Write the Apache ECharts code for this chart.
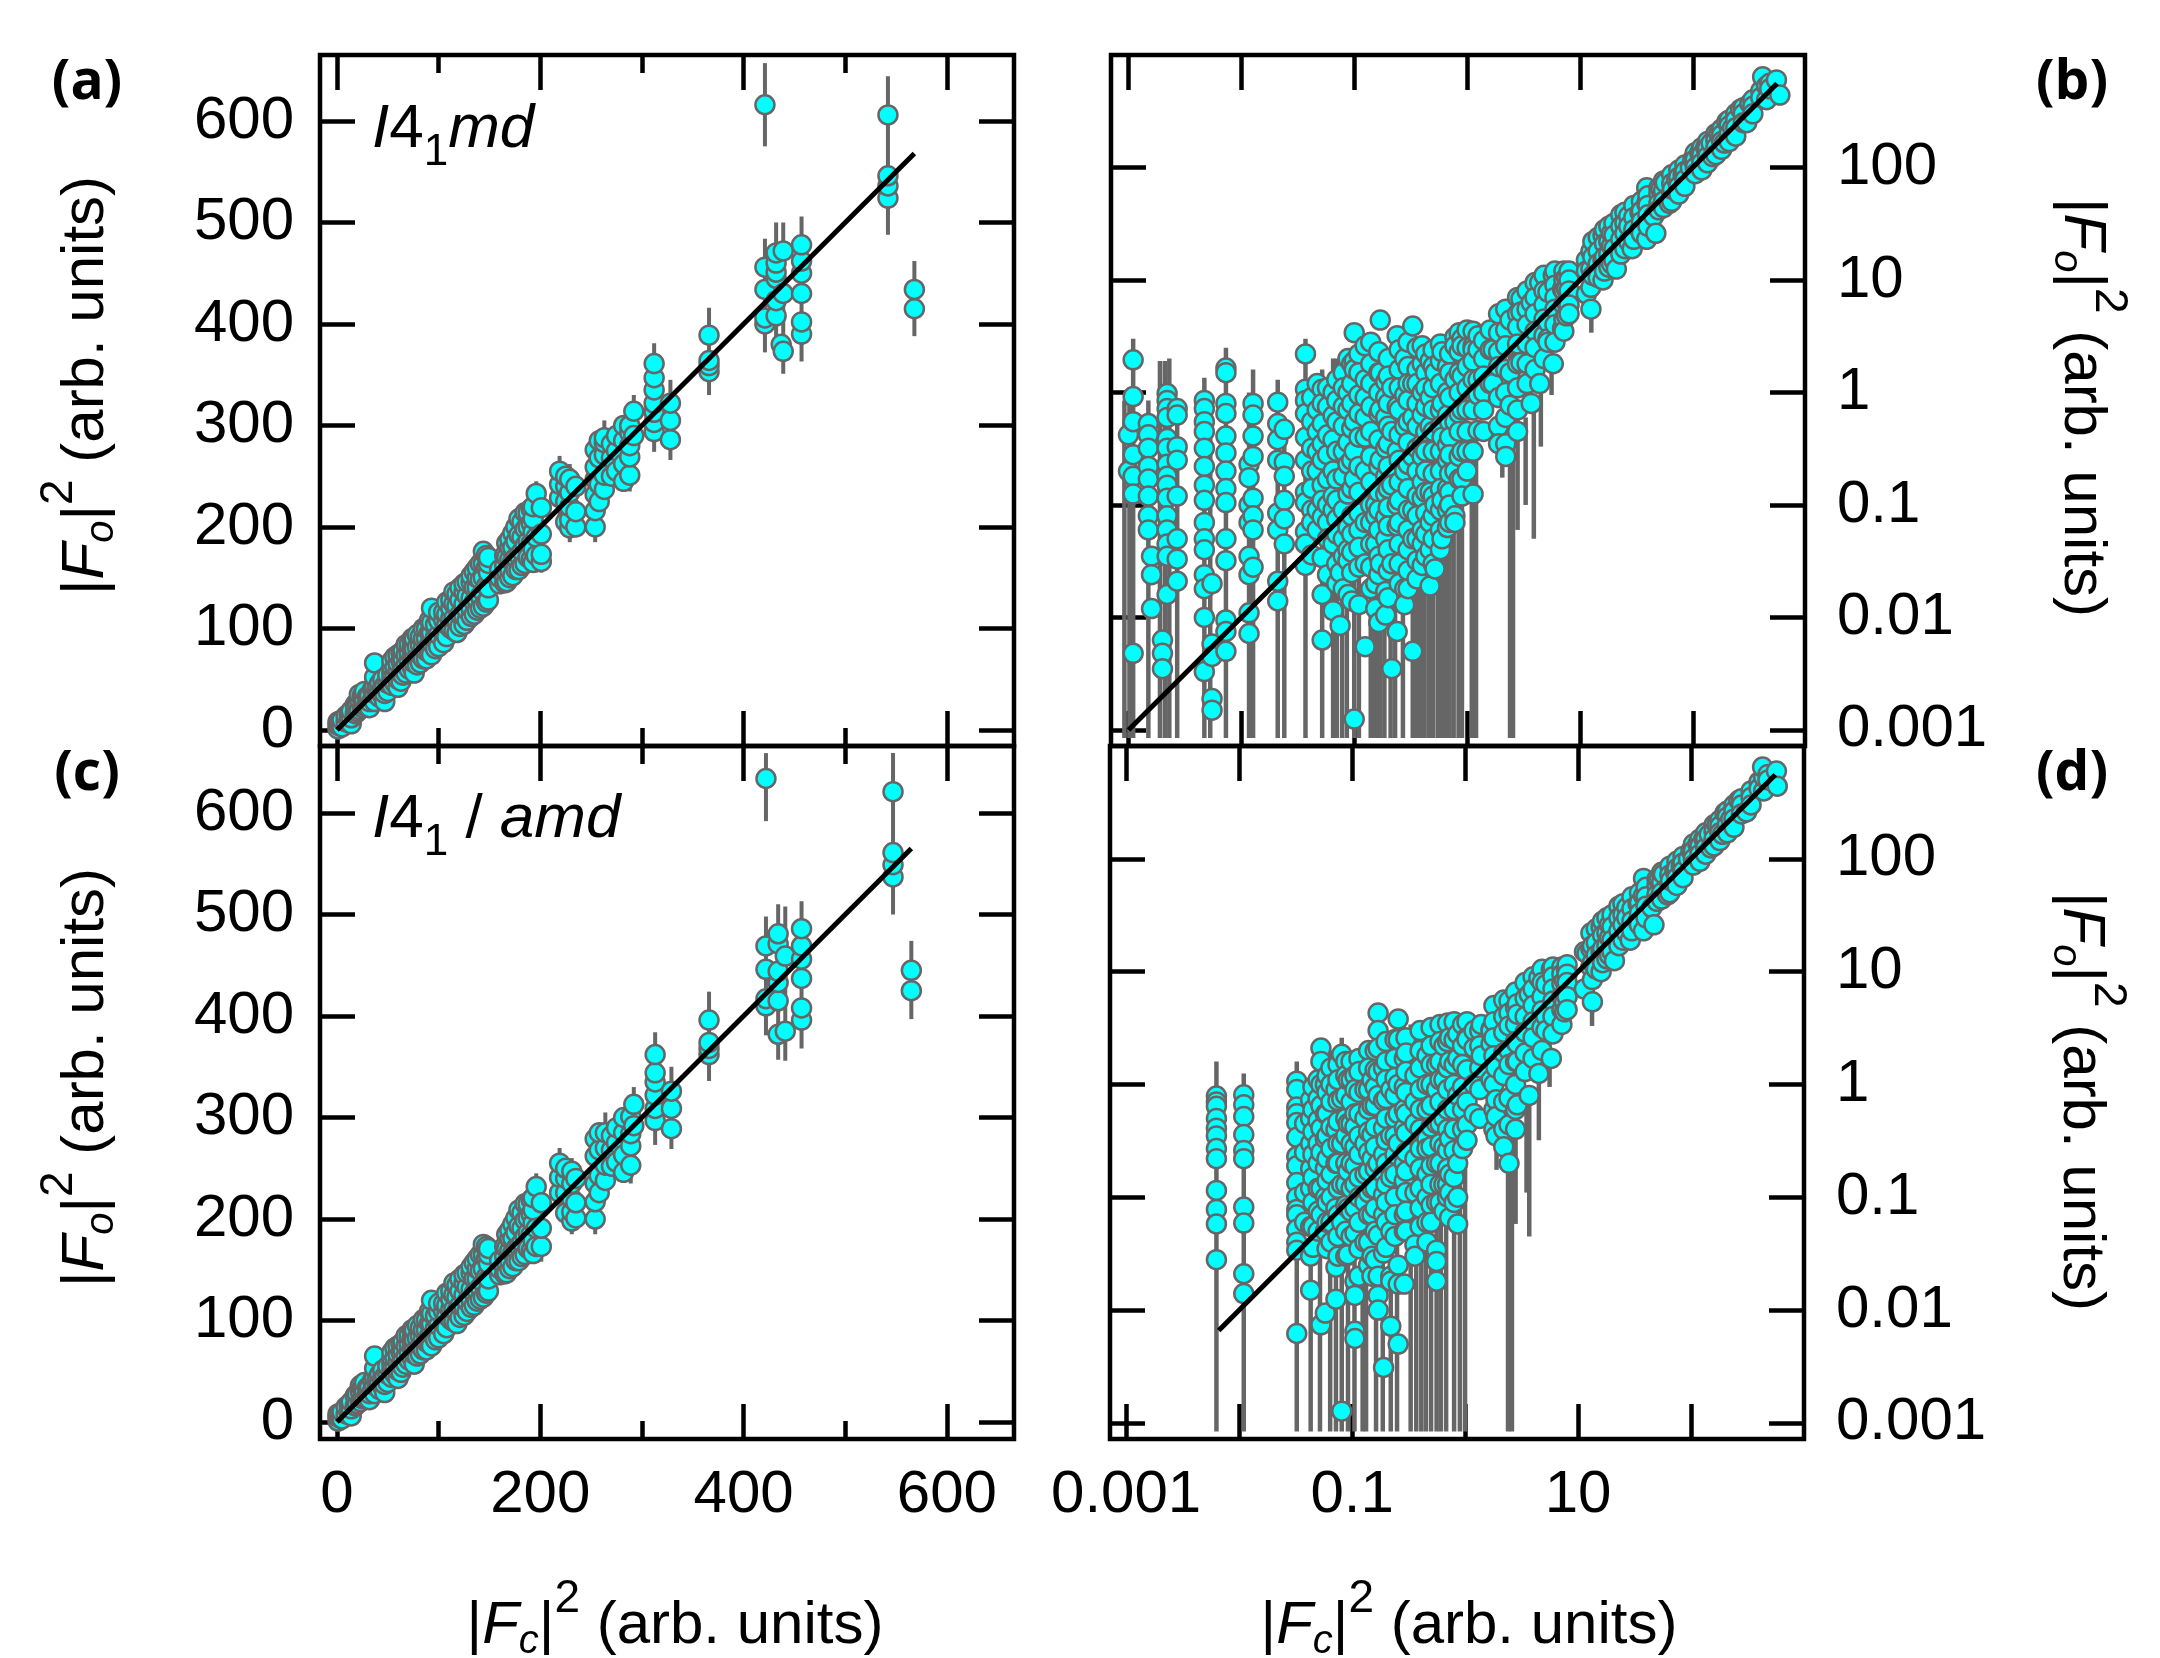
<!DOCTYPE html>
<html>
<head>
<meta charset="utf-8">
<title>Fo vs Fc</title>
<style>html,body{margin:0;padding:0;background:#fff}#main{width:2160px;height:1658px}</style>
</head>
<body>
<div id="main"></div>
<script src="https://cdn.jsdelivr.net/npm/echarts@6/dist/echarts.min.js"></script>
<script>
// linear panels: ticks
var linTicksMajor = [0, 200, 400, 600];
var linTicksMinor = [100, 300, 500];
var linTicksY = [0, 100, 200, 300, 400, 500, 600];
// log panels: ticks
var logTicks = [0.001, 0.01, 0.1, 1, 10, 100];
var logLabelsX = [0.001, 0.1, 10];

// panel a: points per column (x, list of y), error bars (x, high, low), fit line
var aColX = [1,3,5,9,12,14,18,20,22,25,27,30,32,35,37,40,42,45,47,50,54,57,60,63,65,68,71,74,76,79,82,85,88,91,93,97,100,105,108,112,115,118,121,125,128,132,135,138,141,144,147,149,160,165,167,170,173,176,179,182,185,188,191,193,196,201,219,225,229,235,254,258,263,270,275,282,288,292,312,328,366,421,432,437,439,457,542,568];
var aColY = [[1,5,8],[4,7],[3,10],[8,14],[10,16],[6,12,19],[16,25],[18,27],[20,30,35],[22,34],[24,30,38],[26,33],[22,28,34],[30,40],[28,36,43,52,66],[36,42],[32,38,46],[34,42,50],[28,36,44],[38,46,54],[44,50,56,62,68],[46,54,62,72],[42,50,58,66,74],[48,56,68,76],[54,60,70,78],[56,64,74,84],[60,68,76,84],[62,72,82,90],[56,66,72,80,90],[64,72,82,94],[66,74,84,92],[70,80,90,100],[70,78,90,100],[76,84,96,108],[74,86,96,106,120],[80,92,104],[82,94,108,116],[86,96,108,116],[92,104,114,126],[100,110,120,128],[98,110,124,136],[96,108,122,134],[102,114,128,140],[104,112,124,136,144],[108,118,132,146],[112,120,130,146,152],[114,126,140,156],[118,128,140,150,160],[120,132,148,164],[122,136,150,164,176],[126,142,160,172],[128,140,155,164,170],[144,150,158],[145,152,162,172],[146,156,170,184],[150,158,168,180,188],[152,166,180,194],[158,170,186,200],[158,172,192,208],[162,176,190,205],[164,182,198,214],[170,186,200,214],[168,184,204,218],[165,178,195,208,220],[172,190,233],[166,173,193,219],[229,242,255],[205,225,240,250],[199,207,220,234,247],[200,215,240],[200,216,232,247,259,276],[225,242,268,285],[237,251,271,283,288],[250,268,282],[255,275,290],[245,262,285,300],[251,269,280,293,300],[290,314],[294,303,313,322,335,347,361],[286,305,322],[353,359,364,389],[400,406,434,456,616],[408,423,445,451,460,470],[380],[373,430,472],[390,402,430,450,462,478],[524,536,546,606],[415,434]];
var aBarX = [140,168,196,201,219,229,254,263,288,292,312,328,366,421,421,432,439,457,542,568];
var aBarHigh = [170,185,245,232,270,262,290,305,315,330,381,345,416,657,484,500,500,506,644,462];
var aBarLow = [110,140,155,155,208,185,185,228,235,245,274,266,330,575,372,380,351,363,488,388];
var aLineX = [0, 568];
var aLineY = [0, 568];

// panel c
var cColX = [1,3,5,9,12,14,18,20,23,25,27,30,32,35,37,40,42,45,47,50,54,57,60,63,65,68,71,74,76,79,82,85,88,91,93,97,100,105,108,112,115,118,121,125,128,132,135,138,141,144,147,149,160,165,167,170,173,176,179,182,185,188,191,193,196,201,219,225,231,235,254,258,264,270,275,282,289,292,313,329,366,422,434,441,457,547,565];
var cColY = [[1,5,8],[4,8],[3,10],[8,15],[10,17],[6,13,20],[16,26],[18,28],[20,30,36],[23,34],[24,31,39],[27,34],[22,28,35],[31,41],[28,36,44,53,65],[36,43],[32,39,47],[35,43,51],[29,37,45],[39,47,55],[44,51,57,63,69],[47,55,63,73],[43,51,59,67,75],[49,57,69,77],[54,61,71,79],[57,65,75,85],[61,69,77,85],[63,73,83,91],[57,67,73,81,91],[65,73,83,95],[67,75,85,93],[71,81,91,101],[71,79,91,101],[77,85,97,109],[75,87,97,107,120],[81,93,105],[83,95,109,117],[87,97,109,117],[93,105,115,127],[101,111,121,129],[99,111,125,137],[97,109,123,135],[103,115,129,141],[105,113,125,137,145],[109,119,133,147],[113,121,131,147,153],[115,127,141,157],[119,129,141,151,161],[121,133,149,165],[123,137,151,165,175],[127,143,161,173],[129,141,156,165,171],[145,151,159],[146,153,163,173],[147,157,171,185],[151,159,169,181,189],[153,167,181,195],[159,171,187,201],[159,173,193,209],[163,177,191,206],[165,183,199,215],[171,187,201,215],[169,185,205,219],[166,179,196,209,221],[173,191,232],[173,191,216],[226,241,255],[206,226,240,250],[198,207,220,235,247],[201,216,240],[200,217,235,262,279],[226,243,268,285],[238,253,270,285],[252,268,282],[256,275,290],[246,263,285,300],[253,272,284,301],[292,313],[297,309,322,335,344,362],[289,309,326],[362,368,374,396],[410,417,446,469,634],[382,415,433,444,471,481],[385,459],[396,408,437,456,469,486],[537,549,561,621],[425,445]];
var cBarX = [140,168,196,201,219,231,254,264,289,292,313,329,366,422,422,434,441,457,547,565];
var cBarHigh = [170,185,245,232,270,260,292,305,315,330,384,350,424,659,498,510,508,513,659,474];
var cBarLow = [110,140,158,158,208,185,185,228,235,245,273,269,336,592,381,357,356,368,500,397];
var cLineX = [0, 565];
var cLineY = [0, 565];

// panel b
var bColX = [0.001,0.0011,0.0015,0.0016,0.002,0.0022,0.0027,0.0047,0.0055,0.0073,0.0117,0.0127,0.021,0.024,0.037,0.042,0.047,0.052,0.058,0.065,0.07,0.075,0.08,0.088,0.095,0.1,0.11,0.125,0.14,0.155,0.165,0.17,0.19,0.2,0.215,0.24,0.25,0.28,0.3,0.33,0.36,0.4,0.43,0.47,0.5,0.52,0.58,0.6,0.67,0.7,0.78,0.85,0.9,1,1.13,1.25,1.4,1.6,1.7,1.9,2.2,2.4,2.8,3,3.4,3.7,4,4.4,4.8,5.2,5.8,6,7,7.2,7.6,8,11.4,12.5,13,14.5,16,16.5,18,19,20,21,23,25,27,29,30,34,35,39,40,45,47,50,52,55,57,62,65,66,72,75,82,85,95,100,105,115,120,130,135,145,150,160,170,180,190,200,210,225,240,265,280,300,320,340,400,415,450,480,550,590];
var bColY = [[0.42,0.2],[1.95,0.92,0.55,0.28,0.18,0.125,0.0048],[0.53,0.42,0.32,0.22,0.17,0.12,0.08,0.06],[0.035,0.024,0.012],[0.0063,0.0048,0.0035],[0.98,0.85,0.72,0.6,0.39,0.32,0.23,0.18,0.15,0.115,0.08,0.06,0.045,0.035,0.016],[0.72,0.63,0.33,0.25,0.12,0.05,0.033,0.021],[0.85,0.72,0.55,0.45,0.32,0.22,0.15,0.11,0.07,0.05,0.04,0.024,0.018,0.01,0.0033],[0.02,0.0058,0.0045,0.0019,0.0015],[1.65,1.5,0.8,0.65,0.41,0.29,0.2,0.14,0.105,0.05,0.032,0.0095,0.0075,0.005],[0.23,0.175,0.1,0.07,0.035,0.024,0.011,0.0072],[0.8,0.63,0.41,0.27,0.115,0.08,0.06,0.028],[0.82,0.53,0.38,0.25,0.085,0.06,0.021,0.014],[0.47,0.24,0.18,0.11,0.075,0.045],[2.2,1.07,0.85,0.65,0.4,0.25,0.13,0.105,0.058,0.045,0.029],[0.9,0.55,0.32,0.2,0.14,0.09,0.07,0.036],[1.2,0.7,0.45,0.3,0.2,0.09,0.06],[1.07,0.8,0.53,0.35,0.25,0.15,0.11,0.078,0.034,0.016,0.0063],[1.1,0.75,0.42,0.28,0.17,0.1,0.07,0.05,0.024],[1,0.62,0.38,0.2,0.12,0.09,0.045,0.0115],[1.3,0.85,0.55,0.3,0.17,0.11,0.075,0.055,0.03,0.02],[0.025,0.0085],[1.5,1.1,0.75,0.5,0.3,0.18,0.09,0.05,0.035,0.018],[2,1,0.7,0.36,0.23,0.125,0.063,0.04,0.032,0.016],[1.8,1.2,0.8,0.48,0.25,0.14,0.08,0.055,0.038,0.025,0.014],[3.4,1.9,1.6,0.55,0.3,0.17,0.00125],[2.2,1.5,0.95,0.65,0.4,0.22,0.13,0.085,0.06,0.042,0.028,0.013],[2.6,1.3,0.9,0.6,0.4,0.2,0.07,0.03,0.0055],[2.8,1.8,1.2,0.75,0.45,0.27,0.16,0.1,0.07,0.045,0.028,0.018],[0.1,0.08,0.045,0.02,0.012],[2.3,1.5,1,0.65,0.38,0.22,0.13,0.09,0.06,0.035,0.024,0.009],[4.4,1.5,0.7,0.25,0.03],[1.25,0.9,0.6,0.32,0.18,0.125,0.078,0.05,0.017,0.0105],[2,1.4,0.8,0.5,0.35,0.22,0.14,0.095,0.065,0.04,0.026,0.015],[1.1,0.45,0.15,0.03,0.0035],[3.2,0.75,0.3,0.1,0.065,0.0075],[2.4,1.6,1.1,0.7,0.42,0.25,0.16,0.11,0.07,0.045,0.03,0.02],[2,0.95,0.5,0.2,0.018,0.013],[2.8,1.7,1.2,0.85,0.55,0.36,0.23,0.14,0.09,0.06,0.04,0.026,0.018],[3.9,1.2,0.6,0.27,0.09,0.05,0.005],[2.5,1.6,1.2,0.8,0.5,0.32,0.2,0.12,0.08,0.05,0.032,0.022],[2.6,1.8,1,0.63,0.35,0.27,0.16,0.115,0.06,0.045,0.029],[2.2,1.5,1.1,0.75,0.45,0.3,0.2,0.13,0.085,0.055,0.035],[1.9,0.9,0.5,0.13,0.07,0.04,0.019],[2.4,1.7,1.1,0.7,0.45,0.3,0.19,0.12,0.08,0.05,0.03],[1.5,0.1,0.027],[2.7,1.9,1.2,0.7,0.5,0.3,0.2,0.14,0.09,0.06,0.04],[2.3,0.8,0.4,0.11,0.05],[1.7,1,0.63,0.34,0.25,0.14,0.09,0.063],[2.2,1.5,0.9,0.55,0.4,0.28,0.19,0.13,0.1,0.07],[3.1,2.6,1.3,0.55,0.2,0.08,0.07],[3.4,2.3,1.5,1,0.65,0.45,0.27,0.17],[3,2.6,1.4,0.7,0.3,0.17,0.12],[3.6,2.5,1.7,1.1,0.7,0.45,0.3,0.2],[3.5,2.6,2.4,1.9,1.3,0.7,0.3,0.125],[3.2,2.4,1.3,0.95,0.46],[2.9,2,1.4,1,0.7,0.45],[3.6,2.4,1.2],[2.4,1.2],[5,3.4,2.3,1.7,0.9,0.5,0.35],[5.5,3.6,2.6,1.6,1,0.6,0.35,0.27],[4.4,1.5,0.77],[7,5,3.8,2.7,1.8,1.1,0.7,0.45],[6.8,5.2,1.85],[8,5.5,4,2.7,1.8,1.2],[6.3,0.8],[9.5,7,5,3.5,2.5,1.6],[9.5,1.2],[11,8,6,4.5,3.2,2],[7.8,4.2,3,2.8],[11,1.8],[12,9,7,5.5,4,2.8],[8.3,3.7],[12,10,8,6,4.5,3.5],[10.5,8.3,6.3,4.8],[12,10,8,6,5],[15,12,7.5],[18,12.5,8.6,5.5],[22,16,11],[24,18,14,10.5],[25,15,10],[28,21,16,12],[30,22,17,13],[26,20,14],[32,25,19,15],[12.5],[38,30,23,17],[40,32,26,19],[37,30,22],[19],[46,36,28,23],[40,28],[50,41,33,26],[66,48,23],[56,46,38,30],[37],[26],[66,58,48,42],[64],[76,62,50,44],[73],[48],[86,72,60,50],[64],[78],[95,82,68,58],[86],[105,92,78,68],[100],[118],[135,118,100,88],[135],[150,130,110,95],[150],[170,150,125,110],[165],[125],[200,175,150,130],[200],[220,195,170,145],[165],[255],[265,235,200,170],[225],[300,265,225,190],[330],[340,300,250],[250],[370],[400,350,300],[480,420],[640],[530,400],[560,500],[600],[440]];
var bBarX = [0.00092,0.00102,0.0011,0.0015,0.0019,0.0021,0.0023,0.0027,0.0047,0.0053,0.0073,0.0117,0.0127,0.021,0.024,0.037,0.052,0.065,0.07,0.078,0.086,0.1,0.11,0.14,0.15,0.16,0.17,0.185,0.21,0.23,0.27,0.33,0.36,0.39,0.42,0.46,0.5,0.55,0.6,0.65,0.7,0.76,0.84,0.9,1.1,1.2,2.05,2.4,2.55,2.8,3.3,3.9,4.5,5.6,12.6];
var bBarHigh = [0.85,0.9,3,0.85,1.9,1.9,2,0.6,1.35,0.95,2.5,1,1.6,1.3,0.5,3,1.6,2,2,2,2,1.9,1.9,1.5,1.5,1.5,1.5,1.5,1.5,1.5,1.5,2,2,2,2,2,2,2,2,2,2,2,2,2,0.5,0.5,0.35,3,3,0.6,0.6,0.8,1.2,2.5,15];
var bBarLow = [0.00085,0.00085,0.00085,0.00085,0.00085,0.00085,0.00085,0.00085,0.00085,0.00085,0.00085,0.00085,0.00085,0.00085,0.00085,0.00085,0.00085,0.00085,0.00085,0.00085,0.00085,0.00085,0.00085,0.00085,0.00085,0.00085,0.00085,0.00085,0.00085,0.00085,0.00085,0.00085,0.00085,0.00085,0.00085,0.00085,0.00085,0.00085,0.00085,0.00085,0.00085,0.00085,0.00085,0.00085,0.00085,0.00085,0.175,0.00085,0.00085,0.06,0.1,0.05,0.33,0.95,3.4];
var bLineX = [0.001, 557];
var bLineY = [0.001, 557];

// panel d
var dColX = [0.0063,0.011,0.0324,0.038,0.043,0.045,0.05,0.053,0.058,0.06,0.065,0.072,0.075,0.081,0.088,0.092,0.098,0.106,0.115,0.13,0.14,0.15,0.16,0.17,0.19,0.2,0.22,0.24,0.256,0.29,0.3,0.36,0.4,0.46,0.5,0.56,0.6,0.65,0.7,0.73,0.8,0.86,0.95,1.04,1.2,1.35,1.39,1.7,1.8,1.88,2.2,2.45,2.8,2.9,3.4,3.7,4,4.5,4.8,5.2,5.8,6,7.2,7.6,7.9,8,11.4,12,13,13.4,14.5,16,16.5,18,19,20,21,23,25,27,29,30,34,35,38,40,45,47,50,52,55,57,62,65,66,72,75,82,85,95,100,105,115,120,130,135,145,150,160,170,180,190,200,210,225,240,265,280,310,340,400,440,430,480,570,580];
var dColY = [[0.79,0.7,0.64,0.5,0.41,0.35,0.27,0.22,0.115,0.078,0.058,0.028],[0.81,0.66,0.52,0.36,0.26,0.22,0.082,0.059,0.021,0.014],[1.07,0.9,0.63,0.55,0.46,0.34,0.23,0.19,0.135,0.1,0.078,0.07,0.052,0.04,0.034,0.0062],[0.45,0.25,0.11,0.06],[0.73,0.5,0.3,0.18,0.12,0.055,0.03,0.015],[0.95,0.6,0.38,0.24,0.15,0.09,0.055,0.036],[1.1,0.75,0.48,0.3,0.2,0.12,0.075,0.05],[2.1,1.6,1,0.65,0.41,0.25,0.12,0.07,0.0074],[1,0.55,0.33,0.18,0.1,0.05,0.0094],[1.2,0.85,0.55,0.35,0.22,0.14,0.09,0.06,0.035],[1.4,1,0.7,0.42,0.27,0.16,0.1,0.06,0.04],[0.9,0.4,0.2,0.08,0.024,0.0125],[1.5,1.1,0.72,0.47,0.3,0.2,0.12,0.07,0.045,0.03],[1.85,0.75,0.3,0.13,0.06,0.00127],[1.6,1.2,0.8,0.5,0.35,0.2,0.13,0.085,0.05,0.03],[1.1,0.45,0.17,0.08,0.031],[1.6,1.1,0.7,0.45,0.3,0.2,0.12,0.075,0.045],[1.2,0.9,0.55,0.42,0.28,0.19,0.13,0.08,0.048,0.018,0.0135,0.0065,0.0056],[1.7,1.3,0.85,0.55,0.35,0.24,0.15,0.1,0.06,0.035,0.02],[0.9,0.5,0.3,0.16,0.09,0.04],[2,1.4,0.9,0.6,0.38,0.25,0.17,0.11,0.07,0.04,0.025],[1.1,0.65,0.36,0.22,0.12,0.07,0.03,0.02],[2,1.35,0.95,0.65,0.42,0.28,0.18,0.12,0.08,0.05,0.028],[4.3,3,2.1,1.3,0.8,0.2,0.046,0.02,0.0135,0.01],[1.4,0.72,0.41,0.24,0.16,0.105,0.07,0.032,0.0031],[2.4,1.6,1.1,0.75,0.5,0.32,0.2,0.13,0.09,0.06,0.036],[0.9,0.35,0.15,0.05,0.02,0.018,0.0072],[2.5,1.7,1.15,0.8,0.5,0.35,0.24,0.16,0.1,0.07,0.045],[3.8,2.5,1,0.55,0.3,0.025,0.017,0.005],[1.7,0.95,0.6,0.41,0.2,0.14,0.07,0.05,0.017],[2.6,1.9,1.3,0.85,0.55,0.37,0.25,0.17,0.11,0.075,0.05],[1.2,0.7,0.45,0.22,0.11,0.038,0.03],[3,2,1.4,0.9,0.6,0.4,0.27,0.18,0.12,0.08,0.055],[1.8,1,0.6,0.33,0.27,0.16,0.1,0.06,0.04],[3.2,2.2,1.5,1,0.65,0.42,0.28,0.19,0.13,0.085,0.06],[1.5,0.9,0.45,0.2,0.09,0.034,0.027,0.018],[3.4,2.4,1.6,1.1,0.7,0.45,0.3,0.2,0.13,0.09],[2.2,1.1,0.5,0.28,0.13,0.075],[3.5,2.4,1.4,0.9,0.6,0.4,0.26,0.18,0.13,0.1],[2.6,1.6,0.33,0.16,0.11,0.066],[3.6,2.5,1.5,1,0.6,0.4,0.26,0.15,0.09],[2.8,1.7,0.8,0.2,0.1,0.058],[3.4,2.2,1.5,0.95,0.6,0.4,0.27],[3.6,2.6,2.5,1.35,0.7,0.44,0.32],[3,2.1,1,0.55],[3,2.2,1.4,0.9,0.5],[3.4,1.8],[3.1,3,2.3,1.1],[5,3.6,2.6,1.8,1,0.6,0.4],[1.4,0.73,0.52,0.35],[5.6,4,2.9,1.9,1.2,0.7,0.4,0.28],[5.5,4.3,3.3,2,1.5,0.76,0.44,0.2],[6.6,4.8,3.4,2.4,1.6,1,0.6,0.4],[5.2,4.2,2.3,1.6,0.66],[8,5.8,4,2.9,1.9,1.3],[6.3,0.8],[9,7,5,3.6,2.6,1.7],[8.8,1.25],[10.5,8,6,4.5,3.2,2],[7.7,4,3],[10.5,1.7],[11,9,7,5.5,4,2.8],[11,9.5,7.8,6,4.6,3.4],[8.3,5.3,4.4],[10.5],[11.5,9.5,8,6,4.6],[15,7],[14.5],[22,16,11],[17,12,8.5,5.4],[24,18,14,10.5],[25,15,10],[28,21,16,12],[30,22,17,13],[26,20,14],[32,25,19,15],[12.5],[38,30,23,17],[40,32,26,19],[37,30,22],[19],[46,36,28,23],[40,28],[50,41,33,26],[67,47,23],[56,46,38,30],[37],[26],[66,58,48,42],[64],[76,62,50,44],[73],[48],[86,72,60,50],[64],[78],[95,82,68,58],[86],[105,92,78,68],[100],[118],[135,118,100,88],[135],[150,130,110,95],[150],[170,150,125,110],[165],[125],[200,175,150,130],[200],[220,195,170,145],[165],[255],[265,235,200,170],[225],[300,265,225,190],[330],[340,300,250],[260],[400,350,300],[480,420],[400,530],[650],[560,500],[600],[440]];
var dBarX = [0.0063,0.011,0.0324,0.043,0.052,0.064,0.072,0.081,0.092,0.105,0.124,0.133,0.163,0.187,0.22,0.25,0.33,0.37,0.41,0.45,0.5,0.56,0.61,0.68,0.8,0.9,1,1.9,2.4,2.6,2.8,3.5,3.7,4.5,5.6,13.3];
var dBarHigh = [1.6,1.25,1.6,1,1.5,2,2,2.6,2,2,2,2,2,2,2,2,3.4,3.4,3.4,3.6,3,3,3,3,3,3,3,0.35,3,3,0.6,0.6,0.8,1.2,2.5,15];
var dBarLow = [0.00084,0.00084,0.00084,0.00084,0.00084,0.00084,0.00084,0.00084,0.00084,0.00084,0.00084,0.00084,0.00084,0.00084,0.00084,0.00084,0.00084,0.00084,0.00084,0.00084,0.00084,0.00084,0.00084,0.00084,0.00084,0.00084,0.00084,0.175,0.00084,0.00084,0.058,0.11,0.045,0.32,0.95,3.3];
var dLineX = [0.0066, 557];
var dLineY = [0.0066, 557];

var FONT = 'Liberation Sans';
var GREY = '#666666';
var titleRich = {
    t: { fontFamily: FONT, fontSize: 60, color: '#000', lineHeight: 100, verticalAlign: 'middle' },
    i: { fontFamily: FONT, fontSize: 60, fontStyle: 'italic', color: '#000', lineHeight: 100, verticalAlign: 'middle' },
    s: { fontFamily: FONT, fontSize: 40, fontStyle: 'italic', color: '#000', lineHeight: 66, verticalAlign: 'bottom', padding: [0, 0, 14, 0] },
    u: { fontFamily: FONT, fontSize: 46, color: '#000', lineHeight: 66, verticalAlign: 'top' }
};
var foTitle = '{t||}{i|F}{s|o}{t||}{u|2}{t| (arb. units)}';
var fcTitle = '{t||}{i|F}{s|c}{t||}{u|2}{t| (arb. units)}';

function pairs(colX, colY) {
    var out = [];
    colX.forEach(function (x, i) {
        colY[i].forEach(function (y) { out.push([x, y]); });
    });
    return out;
}
function zip3(a, b, c) {
    return a.map(function (v, i) { return [v, b[i], c[i]]; });
}
function zip2(a, b) {
    return a.map(function (v, i) { return [v, b[i]]; });
}
function logFmt(v) { return String(+(+v).toPrecision(3)); }

var grids = [], xAxes = [], yAxes = [], series = [];

function tickAxis(list, pos, gi, ext, type, ticks, len, extra) {
    var ax = {
        type: type, gridIndex: gi, position: pos, min: ext[0], max: ext[1],
        splitLine: { show: false }, minorTick: { show: false }, minorSplitLine: { show: false },
        axisLine: { show: false, onZero: false },
        axisLabel: { show: false },
        axisTick: { show: true, inside: true, length: len, customValues: ticks, lineStyle: { color: '#000', width: 4.5 } }
    };
    if (type === 'log') ax.logBase = 10;
    if (extra) {
        for (var k in extra) ax[k] = extra[k];
    }
    list.push(ax);
    return list.length - 1;
}

function labelStyle(values, fmt) {
    return { show: true, inside: false, margin: 26, customValues: values, formatter: fmt, fontFamily: FONT, fontSize: 60, color: '#000', showMinLabel: true, showMaxLabel: true };
}

function panel(p) {
    var gi = grids.length;
    grids.push({ show: true, left: p.box[0], top: p.box[1], width: p.box[2], height: p.box[3], outerBoundsMode: 'none', containLabel: false, borderColor: '#000', borderWidth: 4.5, backgroundColor: 'transparent' });
    var isLog = p.type === 'log';
    var xt = isLog ? logTicks : linTicksMajor;
    var yt = isLog ? logTicks : linTicksY;
    var fmt = isLog ? logFmt : function (v) { return String(v); };

    var xExtra = {};
    if (p.xLabels) {
        xExtra.axisLabel = labelStyle(p.xLabels, fmt);
        xExtra.name = fcTitle;
        xExtra.nameLocation = 'middle';
        xExtra.nameGap = p.xNameGap;
        xExtra.nameMoveOverlap = false;
        xExtra.nameTextStyle = { rich: titleRich, padding: p.xNamePad };
    }
    var xi = tickAxis(xAxes, 'bottom', gi, p.xExt, p.type, xt, 35, xExtra);
    tickAxis(xAxes, 'top', gi, p.xExt, p.type, xt, 35);
    if (!isLog) {
        tickAxis(xAxes, 'bottom', gi, p.xExt, p.type, linTicksMinor, 18);
        tickAxis(xAxes, 'top', gi, p.xExt, p.type, linTicksMinor, 18);
    }
    var yExtra = {
        axisLabel: labelStyle(yt, fmt),
        name: foTitle, nameLocation: 'middle', nameGap: p.yNameGap, nameRotate: p.yRight ? -90 : 90,
        nameMoveOverlap: false,
        nameTextStyle: { rich: titleRich, padding: p.yNamePad }
    };
    yExtra.axisLabel.padding = [10, 0, 0, 0];
    if (p.yRight) {
        yExtra.axisLabel.align = 'left';
        yExtra.axisLabel.margin = 32;
    }
    var yi = tickAxis(yAxes, p.yRight ? 'right' : 'left', gi, p.yExt, p.type, yt, 35, yExtra);
    tickAxis(yAxes, p.yRight ? 'left' : 'right', gi, p.yExt, p.type, yt, 35);

    series.push({
        type: 'custom', xAxisIndex: xi, yAxisIndex: yi, z: 2, silent: true, clip: true,
        data: zip3(p.barX, p.barHigh, p.barLow),
        encode: { x: 0, y: [1, 2] },
        renderItem: function (params, api) {
            var a = api.coord([api.value(0), api.value(1)]);
            var b = api.coord([api.value(0), api.value(2)]);
            return {
                type: 'line',
                shape: { x1: a[0], y1: a[1], x2: b[0], y2: b[1] },
                style: { stroke: GREY, lineWidth: p.barWidth, fill: null }
            };
        }
    });
    series.push({
        type: 'scatter', xAxisIndex: xi, yAxisIndex: yi, z: 3, silent: true,
        data: pairs(p.colX, p.colY), symbol: 'circle', symbolSize: 19, large: false,
        itemStyle: { color: '#00FFFF', borderColor: GREY, borderWidth: 2.5, opacity: 1 }
    });
    series.push({
        type: 'line', xAxisIndex: xi, yAxisIndex: yi, z: 4, silent: true, showSymbol: false,
        data: zip2(p.lineX, p.lineY), lineStyle: { color: '#000', width: 5 }
    });
}

panel({ type: 'value', box: [320, 55, 694, 691], xExt: [-16.7, 666], yExt: [-15.8, 665], colX: aColX, colY: aColY, barX: aBarX, barHigh: aBarHigh, barLow: aBarLow, lineX: aLineX, lineY: aLineY, barWidth: 4, yNameGap: 184, yNamePad: [0, 0, 0, 30] });
panel({ type: 'log', box: [1111, 55, 694, 691], xExt: [0.0007, 985], yExt: [0.00072, 1000], colX: bColX, colY: bColY, barX: bBarX, barHigh: bBarHigh, barLow: bBarLow, lineX: bLineX, lineY: bLineY, barWidth: 4.5, yRight: true, yNameGap: 227, yNamePad: [0, 0, 0, 14] });
panel({ type: 'value', box: [320, 746, 694, 693], xExt: [-16.7, 666], yExt: [-16.7, 666], colX: cColX, colY: cColY, barX: cBarX, barHigh: cBarHigh, barLow: cBarLow, lineX: cLineX, lineY: cLineY, barWidth: 4, xLabels: linTicksMajor, xNameGap: 137, xNamePad: [0, 0, 0, 16], yNameGap: 184, yNamePad: [0, 0, 0, 30] });
panel({ type: 'log', box: [1110, 746, 694, 693], xExt: [0.00072, 1000], yExt: [0.00072, 1000], colX: dColX, colY: dColY, barX: dBarX, barHigh: dBarHigh, barLow: dBarLow, lineX: dLineX, lineY: dLineY, barWidth: 4.5, xLabels: logLabelsX, xNameGap: 137, xNamePad: [0, 0, 0, 24], yRight: true, yNameGap: 227, yNamePad: [0, 0, 0, 18] });

function panelTag(txt, x, y) {
    return { type: 'text', x: x, y: y, z: 10, style: { text: txt, fontFamily: 'Open Sans', fontWeight: 'bold', fontSize: 55, fill: '#000', align: 'center', verticalAlign: 'middle' } };
}
var groupRich = {
    n: { fontFamily: FONT, fontSize: 62, color: '#000', lineHeight: 90, verticalAlign: 'middle' },
    i: { fontFamily: FONT, fontSize: 62, fontStyle: 'italic', color: '#000', lineHeight: 90, verticalAlign: 'middle' },
    s: { fontFamily: FONT, fontSize: 44, color: '#000', lineHeight: 60, verticalAlign: 'bottom' }
};
function groupLabel(txt, x, y) {
    return { type: 'text', x: x, y: y, z: 10, style: { text: txt, rich: groupRich, align: 'left', verticalAlign: 'middle' } };
}

var chart = echarts.init(document.getElementById('main'), null, { renderer: 'canvas' });
chart.setOption({
    animation: false,
    backgroundColor: '#fff',
    grid: grids,
    xAxis: xAxes,
    yAxis: yAxes,
    series: series,
    graphic: [
        panelTag('(a)', 87, 83), panelTag('(b)', 2072, 83), panelTag('(c)', 87, 774), panelTag('(d)', 2072, 774),
        groupLabel('{i|I}{n|4}{s|1}{i|md}', 372, 130),
        groupLabel('{i|I}{n|4}{s|1}{n| / }{i|amd}', 372, 820)
    ]
});
</script>
</body>
</html>
